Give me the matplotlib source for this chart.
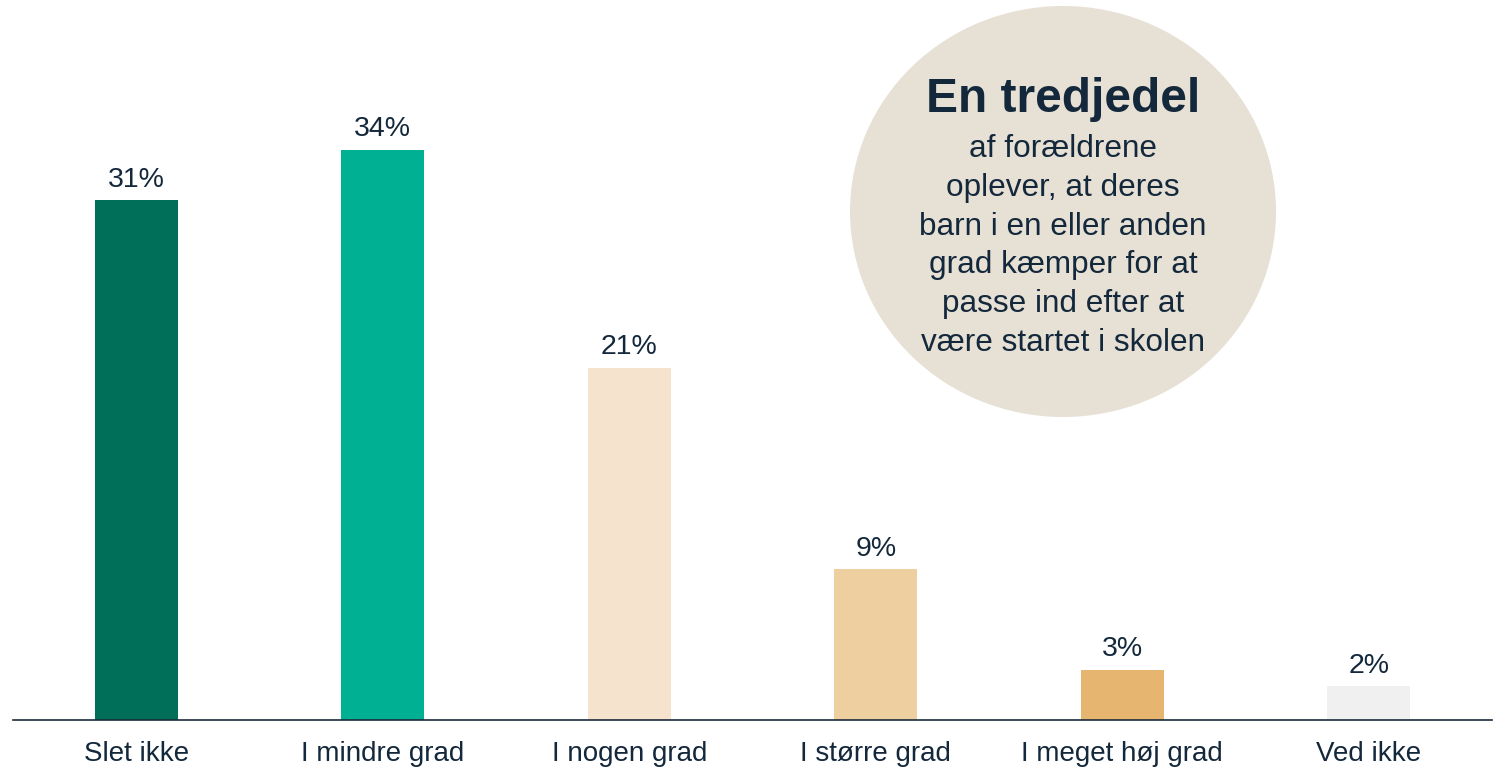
import matplotlib
matplotlib.use("Agg")
import matplotlib.pyplot as plt
from matplotlib.patches import Ellipse

kategorier = ['Slet ikke', 'I mindre grad', 'I nogen grad', 'I større grad',
              'I meget høj grad', 'Ved ikke']
andele = [31, 34, 21, 9, 3, 2]
farver = ['#006F59', '#00B092', '#F5E3CE', '#EECF9F', '#E6B56F', '#F0F0F0']
overskrift = 'En tredjedel'
brodtekst = ('af forældrene\noplever, at deres\nbarn i en eller anden\n'
             'grad kæmper for at\npasse ind efter at\nvære startet i skolen')

tekstfarve = '#14283C'
plt.rcParams['font.family'] = ['Liberation Sans', 'DejaVu Sans']

W, H = 1502, 770
fig = plt.figure(figsize=(W / 100, H / 100), dpi=100)
ax = fig.add_axes([13 / W, 50 / H, (1492 - 13) / W, 720 / H])

x = list(range(len(kategorier)))
ax.bar(x, andele, width=0.337, color=farver)
for xi, v in zip(x, andele):
    ax.text(xi, v + 0.45, f'{v}%', ha='center', va='bottom', fontsize=20.5, color=tekstfarve)

ax.set_xlim(-0.5, 5.5)
ax.set_ylim(0, 42.93)
ax.set_xticks(x)
ax.set_xticklabels(kategorier, fontsize=20, color=tekstfarve)
ax.tick_params(axis='x', length=0, pad=15)
ax.set_yticks([])
for side in ['top', 'right', 'left']:
    ax.spines[side].set_visible(False)
ax.spines['bottom'].set_color('#1B2B3C')
ax.spines['bottom'].set_linewidth(1.2)

# cirkel med pointe
cirkel = Ellipse((1063, H - 211.5), 426, 411, transform=None, facecolor='#E7E0D4',
                 edgecolor='none', zorder=0)
fig.patches.append(cirkel)
fig.text(1063 / W, 1 - 100 / H, overskrift, ha='center', va='center', fontsize=34.5,
         fontweight='bold', color=tekstfarve)
fig.text(1063 / W, 1 - 246 / H, brodtekst, ha='center', va='center', fontsize=22.7,
         linespacing=1.38, color=tekstfarve)

fig.savefig('out.png', dpi=100)
